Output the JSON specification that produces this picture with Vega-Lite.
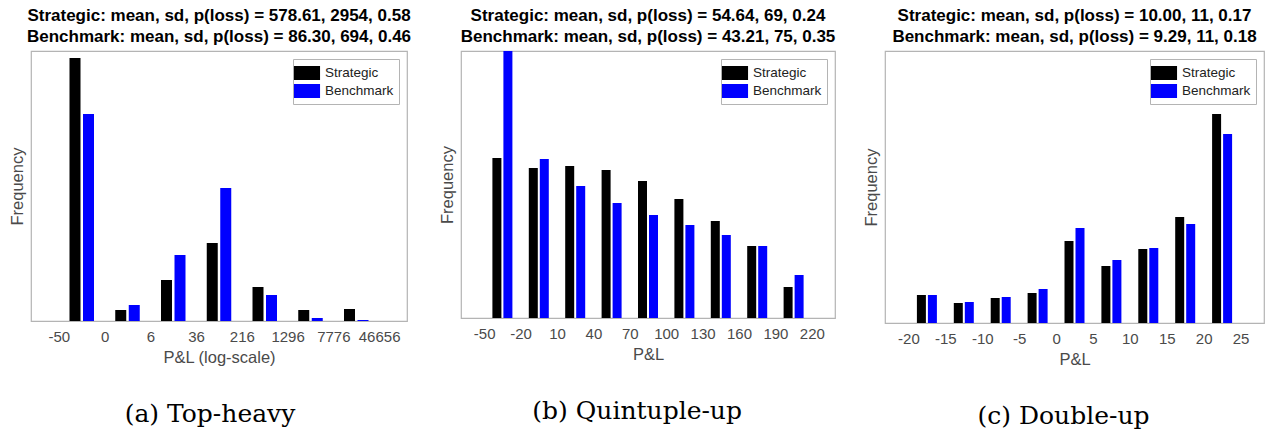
{
  "$schema": "https://vega.github.io/schema/vega-lite/v6.json",
  "background": "white",
  "padding": {"left": 8, "top": 5, "right": 5, "bottom": 5},
  "config": {
    "font": "Liberation Sans",
    "view": {"stroke": "#b4b4b4", "strokeWidth": 1.2},
    "title": {"font": "Liberation Sans", "fontSize": 17, "fontWeight": "bold", "color": "#000", "lineHeight": 21.5, "offset": 5, "anchor": "middle"},
    "axis": {"labelFont": "Liberation Sans", "labelFontSize": 15, "labelColor": "#4a4a4a", "titleFont": "Liberation Sans", "titleFontSize": 16.5, "titleFontWeight": "normal", "titleColor": "#4a4a4a", "grid": false, "ticks": false, "domain": false, "labelExpr": "'' + datum.value"},
    "legend": {"orient": "top-right", "offset": 8, "title": null, "labelFont": "Liberation Sans", "labelFontSize": 13.5, "labelColor": "#222", "strokeColor": "#b4b4b4", "fillColor": "white", "padding": 5, "symbolType": "M-1.45,-0.78L1.45,-0.78L1.45,0.78L-1.45,0.78Z", "symbolSize": 324, "symbolStrokeWidth": 0, "labelOffset": 9, "rowPadding": 1}
  },
  "datasets": {
    "a": [
      {"series": "Strategic", "pos": 0.5, "freq": 263}, {"series": "Benchmark", "pos": 0.5, "freq": 207},
      {"series": "Strategic", "pos": 1.5, "freq": 11}, {"series": "Benchmark", "pos": 1.5, "freq": 16},
      {"series": "Strategic", "pos": 2.5, "freq": 41}, {"series": "Benchmark", "pos": 2.5, "freq": 66},
      {"series": "Strategic", "pos": 3.5, "freq": 78}, {"series": "Benchmark", "pos": 3.5, "freq": 133},
      {"series": "Strategic", "pos": 4.5, "freq": 34}, {"series": "Benchmark", "pos": 4.5, "freq": 26},
      {"series": "Strategic", "pos": 5.5, "freq": 11}, {"series": "Benchmark", "pos": 5.5, "freq": 3},
      {"series": "Strategic", "pos": 6.5, "freq": 12}, {"series": "Benchmark", "pos": 6.5, "freq": 1}
    ],
    "b": [
      {"series": "Strategic", "pos": -35, "freq": 160}, {"series": "Benchmark", "pos": -35, "freq": 267},
      {"series": "Strategic", "pos": -5, "freq": 150}, {"series": "Benchmark", "pos": -5, "freq": 159},
      {"series": "Strategic", "pos": 25, "freq": 152}, {"series": "Benchmark", "pos": 25, "freq": 132},
      {"series": "Strategic", "pos": 55, "freq": 148}, {"series": "Benchmark", "pos": 55, "freq": 115},
      {"series": "Strategic", "pos": 85, "freq": 137}, {"series": "Benchmark", "pos": 85, "freq": 103},
      {"series": "Strategic", "pos": 115, "freq": 119}, {"series": "Benchmark", "pos": 115, "freq": 93},
      {"series": "Strategic", "pos": 145, "freq": 97}, {"series": "Benchmark", "pos": 145, "freq": 83},
      {"series": "Strategic", "pos": 175, "freq": 72}, {"series": "Benchmark", "pos": 175, "freq": 72},
      {"series": "Strategic", "pos": 205, "freq": 31}, {"series": "Benchmark", "pos": 205, "freq": 43}
    ],
    "c": [
      {"series": "Strategic", "pos": -17.5, "freq": 28}, {"series": "Benchmark", "pos": -17.5, "freq": 28},
      {"series": "Strategic", "pos": -12.5, "freq": 20}, {"series": "Benchmark", "pos": -12.5, "freq": 21},
      {"series": "Strategic", "pos": -7.5, "freq": 25}, {"series": "Benchmark", "pos": -7.5, "freq": 26},
      {"series": "Strategic", "pos": -2.5, "freq": 30}, {"series": "Benchmark", "pos": -2.5, "freq": 34},
      {"series": "Strategic", "pos": 2.5, "freq": 82}, {"series": "Benchmark", "pos": 2.5, "freq": 95},
      {"series": "Strategic", "pos": 7.5, "freq": 57}, {"series": "Benchmark", "pos": 7.5, "freq": 63},
      {"series": "Strategic", "pos": 12.5, "freq": 74}, {"series": "Benchmark", "pos": 12.5, "freq": 75},
      {"series": "Strategic", "pos": 17.5, "freq": 106}, {"series": "Benchmark", "pos": 17.5, "freq": 99},
      {"series": "Strategic", "pos": 22.5, "freq": 209}, {"series": "Benchmark", "pos": 22.5, "freq": 189}
    ]
  },
  "hconcat": [
    {
      "title": {"text": "(a) Top-heavy", "orient": "bottom", "font": "DejaVu Serif", "fontSize": 25, "fontWeight": "normal", "offset": 36},
      "resolve": {"scale": {"color": "independent"}, "legend": {"color": "independent"}},
      "vconcat": [
        {
          "width": 376, "height": 270,
          "title": {"text": ["Strategic: mean, sd, p(loss) = 578.61, 2954, 0.58", "Benchmark: mean, sd, p(loss) = 86.30, 694, 0.46"]},
          "data": {"name": "a"},
          "encoding": {
            "x": {"field": "pos", "type": "quantitative", "scale": {"domain": [-0.5, 7.5], "nice": false, "zero": false},
                  "axis": {"values": [0, 1, 2, 3, 4, 5, 6, 7], "labelExpr": "['-50','0','6','36','216','1296','7776','46656'][datum.value]", "title": "P&L (log-scale)", "labelPadding": 8, "titlePadding": 5}},
            "y": {"field": "freq", "type": "quantitative", "scale": {"domain": [0, 270], "nice": false},
                  "axis": {"labels": false, "title": "Frequency", "titlePadding": 6}},
            "color": {"field": "series", "type": "nominal", "scale": {"domain": ["Strategic", "Benchmark"], "range": ["#000000", "#0000ff"]}}
          },
          "layer": [
            {"transform": [{"filter": "datum.series == 'Strategic'"}], "mark": {"type": "bar", "size": 11, "xOffset": -6.75}},
            {"transform": [{"filter": "datum.series == 'Benchmark'"}], "mark": {"type": "bar", "size": 11, "xOffset": 6.75}}
          ]
        }
      ]
    },
    {
      "title": {"text": "(b) Quintuple-up", "orient": "bottom", "font": "DejaVu Serif", "fontSize": 25, "fontWeight": "normal", "offset": 36},
      "resolve": {"scale": {"color": "independent"}, "legend": {"color": "independent"}},
      "vconcat": [
        {
          "width": 374, "height": 267,
          "title": {"text": ["Strategic: mean, sd, p(loss) = 54.64, 69, 0.24", "Benchmark: mean, sd, p(loss) = 43.21, 75, 0.35"]},
          "data": {"name": "b"},
          "encoding": {
            "x": {"field": "pos", "type": "quantitative", "scale": {"domain": [-65, 235], "nice": false, "zero": false},
                  "axis": {"values": [-50, -20, 10, 40, 70, 100, 130, 160, 190, 220], "title": "P&L", "labelPadding": 8, "titlePadding": 5}},
            "y": {"field": "freq", "type": "quantitative", "scale": {"domain": [0, 267], "nice": false},
                  "axis": {"labels": false, "title": "Frequency", "titlePadding": 6}},
            "color": {"field": "series", "type": "nominal", "scale": {"domain": ["Strategic", "Benchmark"], "range": ["#000000", "#0000ff"]}}
          },
          "layer": [
            {"transform": [{"filter": "datum.series == 'Strategic'"}], "mark": {"type": "bar", "size": 9, "xOffset": -5.5}},
            {"transform": [{"filter": "datum.series == 'Benchmark'"}], "mark": {"type": "bar", "size": 9, "xOffset": 5.5}}
          ]
        }
      ]
    },
    {
      "title": {"text": "(c) Double-up", "orient": "bottom", "font": "DejaVu Serif", "fontSize": 25, "fontWeight": "normal", "offset": 36},
      "resolve": {"scale": {"color": "independent"}, "legend": {"color": "independent"}},
      "vconcat": [
        {
          "width": 379, "height": 272,
          "title": {"text": ["Strategic: mean, sd, p(loss) = 10.00, 11, 0.17", "Benchmark: mean, sd, p(loss) = 9.29, 11, 0.18"]},
          "data": {"name": "c"},
          "encoding": {
            "x": {"field": "pos", "type": "quantitative", "scale": {"domain": [-22.5, 27.5], "nice": false, "zero": false},
                  "axis": {"values": [-20, -15, -10, -5, 0, 5, 10, 15, 20, 25], "title": "P&L", "labelPadding": 8, "titlePadding": 5}},
            "y": {"field": "freq", "type": "quantitative", "scale": {"domain": [0, 272], "nice": false},
                  "axis": {"labels": false, "title": "Frequency", "titlePadding": 6}},
            "color": {"field": "series", "type": "nominal", "scale": {"domain": ["Strategic", "Benchmark"], "range": ["#000000", "#0000ff"]}}
          },
          "layer": [
            {"transform": [{"filter": "datum.series == 'Strategic'"}], "mark": {"type": "bar", "size": 9, "xOffset": -5.5}},
            {"transform": [{"filter": "datum.series == 'Benchmark'"}], "mark": {"type": "bar", "size": 9, "xOffset": 5.5}}
          ]
        }
      ]
    }
  ],
  "spacing": 26,
  "resolve": {"scale": {"color": "independent"}, "legend": {"color": "independent"}}
}
